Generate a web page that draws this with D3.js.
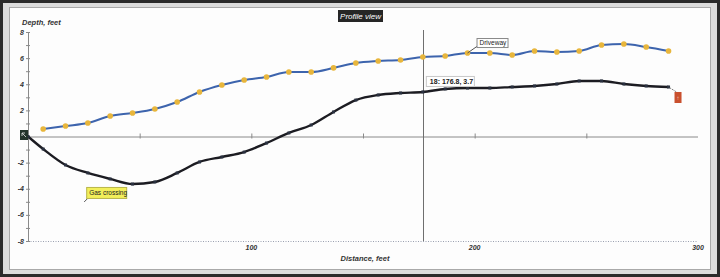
<!DOCTYPE html>
<html>
<head>
<meta charset="utf-8">
<script src="https://cdn.jsdelivr.net/npm/d3@7"></script>
<style>
  html, body { margin: 0; padding: 0; background: #2b2b2b; }
  svg { display: block; }
  text { font-family: 'Liberation Sans', Arial, sans-serif; }
</style>
</head>
<body>
<div id="chart"></div>
<script>
const distance = [0, 6.8, 16.8, 26.8, 36.8, 46.8, 56.8, 66.8, 76.8, 86.8, 96.8,
  106.8, 116.8, 126.8, 136.8, 146.8, 156.8, 166.8, 176.8, 186.8, 196.8,
  206.8, 216.8, 226.8, 236.8, 246.8, 256.8, 266.8, 276.8, 286.8]
const surface = [null, 0.57, 0.8, 1.03, 1.57, 1.8, 2.11, 2.64, 3.41, 3.94, 4.33,
  4.56, 4.94, 4.94, 5.25, 5.63, 5.78, 5.86, 6.09, 6.16, 6.39,
  6.39, 6.24, 6.55, 6.47, 6.55, 7.01, 7.08, 6.85, 6.55]
const pipe = [0, -0.96, -2.18, -2.79, -3.25, -3.64, -3.48, -2.79, -1.95, -1.57, -1.19,
  -0.5, 0.27, 0.88, 1.88, 2.79, 3.18, 3.33, 3.41, 3.64, 3.71,
  3.71, 3.79, 3.87, 4.02, 4.25, 4.25, 4.02, 3.87, 3.79]
const yTicks = [-8, -7, -6, -5, -4, -3, -2, -1, 0, 1, 2, 3, 4, 5, 6, 7, 8]
const yLabels = [-8, -6, -4, -2, 2, 4, 6, 8]
const xTicks = [50, 100, 150, 200, 250]
const xLabels = [100, 200, 300]
const cursorIdx = 18
const cursorText = '18: 176.8, 3.7'
const notes = [
  { idx: 20, text: 'Driveway', series: 'surface' },
  { idx: 4, text: 'Gas crossing', series: 'pipe' }
]

const width = 720
const height = 277

const svg = d3.select('#chart')
  .append('svg')
  .attr('width', width)
  .attr('height', height)

// window frame
svg.append('rect')
  .attr('x', 3).attr('y', 3)
  .attr('width', width - 6).attr('height', height - 6)
  .attr('fill', '#dcdcdc')
svg.append('rect')
  .attr('x', 9.5).attr('y', 7.5)
  .attr('width', 701).attr('height', 262)
  .attr('fill', '#fdfdfd')
  .attr('stroke', '#a9a9a9')

const x = d3.scaleLinear().domain([0, 300]).range([28, 698])
const y = d3.scaleLinear().domain([-8, 8]).range([241, 32])

const axisColor = '#8a8a8a'
const labelFont = 'bold italic 7px "Liberation Sans", Arial, sans-serif'

// bottom dotted line at -8
svg.append('line')
  .attr('x1', x(0)).attr('x2', x(300))
  .attr('y1', y(-8) + 0.5).attr('y2', y(-8) + 0.5)
  .attr('stroke', '#9aa0b0')
  .attr('stroke-dasharray', '1,1.5')

// zero line with ticks
svg.append('line')
  .attr('x1', x(0)).attr('x2', x(300))
  .attr('y1', y(0) + 0.5).attr('y2', y(0) + 0.5)
  .attr('stroke', axisColor)
svg.append('g')
  .selectAll('line')
  .data(xTicks)
  .join('line')
  .attr('x1', d => x(d) + 0.5).attr('x2', d => x(d) + 0.5)
  .attr('y1', y(0) - 3).attr('y2', y(0) + 2)
  .attr('stroke', axisColor)

// y axis
svg.append('line')
  .attr('x1', x(0) + 0.5).attr('x2', x(0) + 0.5)
  .attr('y1', y(8)).attr('y2', y(-8))
  .attr('stroke', axisColor)
svg.append('g')
  .selectAll('line')
  .data(yTicks)
  .join('line')
  .attr('x1', x(0) - 2).attr('x2', x(0) + 2)
  .attr('y1', d => y(d) + 0.5).attr('y2', d => y(d) + 0.5)
  .attr('stroke', axisColor)
svg.append('g')
  .selectAll('text')
  .data(yLabels)
  .join('text')
  .attr('x', x(0) - 4)
  .attr('y', d => y(d) + 2.5)
  .attr('text-anchor', 'end')
  .style('font', labelFont)
  .attr('fill', '#333')
  .text(d => d)

svg.append('g')
  .selectAll('text')
  .data(xLabels)
  .join('text')
  .attr('x', d => x(d))
  .attr('y', 250)
  .attr('text-anchor', 'middle')
  .style('font', labelFont)
  .attr('fill', '#333')
  .text(d => d)

svg.append('text')
  .attr('x', 22).attr('y', 25)
  .style('font', 'bold italic 7.5px "Liberation Sans", Arial, sans-serif')
  .attr('fill', '#333')
  .text('Depth, feet')
svg.append('text')
  .attr('x', 365).attr('y', 261)
  .attr('text-anchor', 'middle')
  .style('font', 'bold italic 7.5px "Liberation Sans", Arial, sans-serif')
  .attr('fill', '#333')
  .text('Distance, feet')

// title
svg.append('rect')
  .attr('x', 338).attr('y', 10)
  .attr('width', 45).attr('height', 12)
  .attr('fill', '#262626')
svg.append('text')
  .attr('x', 360.5).attr('y', 19)
  .attr('text-anchor', 'middle')
  .style('font', 'italic 8px "Liberation Sans", Arial, sans-serif')
  .attr('fill', '#fff')
  .text('Profile view')

// cursor line
svg.append('line')
  .attr('x1', Math.round(x(distance[cursorIdx])) + 0.5)
  .attr('x2', Math.round(x(distance[cursorIdx])) + 0.5)
  .attr('y1', 30).attr('y2', y(-8))
  .attr('stroke', '#6f6f6f')

const surfacePts = distance.map((d, i) => ({ d, v: surface[i] })).filter(p => p.v !== null)
const pipePts = distance.map((d, i) => ({ d, v: pipe[i] }))

const line = d3.line()
  .x(p => x(p.d))
  .y(p => y(p.v))
  .curve(d3.curveMonotoneX)

svg.append('path')
  .datum(surfacePts)
  .attr('d', line)
  .attr('fill', 'none')
  .attr('stroke', '#3d64ad')
  .attr('stroke-width', 2)
svg.append('g')
  .selectAll('circle')
  .data(surfacePts)
  .join('circle')
  .attr('cx', p => x(p.d))
  .attr('cy', p => y(p.v))
  .attr('r', 2.8)
  .attr('fill', '#e8b63c')

svg.append('path')
  .datum(pipePts)
  .attr('d', line)
  .attr('fill', 'none')
  .attr('stroke', '#1c1c22')
  .attr('stroke-width', 2.4)
svg.append('g')
  .selectAll('rect')
  .data(pipePts)
  .join('rect')
  .attr('x', p => x(p.d) - 1.5)
  .attr('y', p => y(p.v) - 1.5)
  .attr('width', 3).attr('height', 3)
  .attr('fill', '#2a3140')

// start marker (dark box on zero)
svg.append('rect')
  .attr('x', 20).attr('y', 130)
  .attr('width', 8).attr('height', 10)
  .attr('fill', '#24332b')
svg.append('path')
  .attr('d', 'M22,133 L26,137 M22,133 L22,136 M22,133 L25,133')
  .attr('stroke', '#e6e6e6')
  .attr('stroke-width', 0.8)
  .attr('fill', 'none')

// end marker
const last = pipePts[pipePts.length - 1]
svg.append('line')
  .attr('x1', x(last.d)).attr('y1', y(last.v))
  .attr('x2', x(last.d) + 8).attr('y2', y(last.v) + 5)
  .attr('stroke', '#555')
  .attr('stroke-dasharray', '1,1')
svg.append('rect')
  .attr('x', x(last.d) + 6).attr('y', y(last.v) + 5)
  .attr('width', 7).attr('height', 11)
  .attr('fill', '#c9502e')
svg.append('text')
  .attr('x', x(last.d) + 9.5).attr('y', y(last.v) + 13)
  .attr('text-anchor', 'middle')
  .style('font', 'bold 6px "Liberation Sans", Arial, sans-serif')
  .attr('fill', '#f3d0c0')
  .text('↑')

// cursor readout
const cx = x(distance[cursorIdx])
const cy = y(pipe[cursorIdx])
svg.append('rect')
  .attr('x', cx + 3.5).attr('y', cy - 15.5)
  .attr('width', 48).attr('height', 10)
  .attr('fill', '#fff')
  .attr('stroke', '#c8c8c8')
svg.append('text')
  .attr('x', cx + 7).attr('y', cy - 8)
  .style('font', 'bold 7px "Liberation Sans", Arial, sans-serif')
  .attr('fill', '#222')
  .text(cursorText)

// notes
notes.forEach(n => {
  const vals = n.series === 'surface' ? surface : pipe
  const px = x(distance[n.idx])
  const py = y(vals[n.idx])
  if (n.series === 'surface') {
    svg.append('line')
      .attr('x1', px).attr('y1', py)
      .attr('x2', px + 10).attr('y2', py - 7)
      .attr('stroke', '#555')
    svg.append('rect')
      .attr('x', px + 9.5).attr('y', py - 14.5)
      .attr('width', 31).attr('height', 9)
      .attr('fill', '#fff')
      .attr('stroke', '#888')
    svg.append('text')
      .attr('x', px + 12).attr('y', py - 8)
      .style('font', '6.5px "Liberation Sans", Arial, sans-serif')
      .attr('fill', '#222')
      .text(n.text)
  } else {
    svg.append('line')
      .attr('x1', px - 26).attr('y1', py + 23)
      .attr('x2', px - 23).attr('y2', py + 20)
      .attr('stroke', '#555')
    svg.append('rect')
      .attr('x', px - 23.5).attr('y', py + 8.5)
      .attr('width', 40).attr('height', 11)
      .attr('fill', '#f2ef5a')
      .attr('stroke', '#b8b54a')
    svg.append('text')
      .attr('x', px - 21).attr('y', py + 16.5)
      .style('font', '6.5px "Liberation Sans", Arial, sans-serif')
      .attr('fill', '#222')
      .text(n.text)
  }
})
</script>
</body>
</html>
